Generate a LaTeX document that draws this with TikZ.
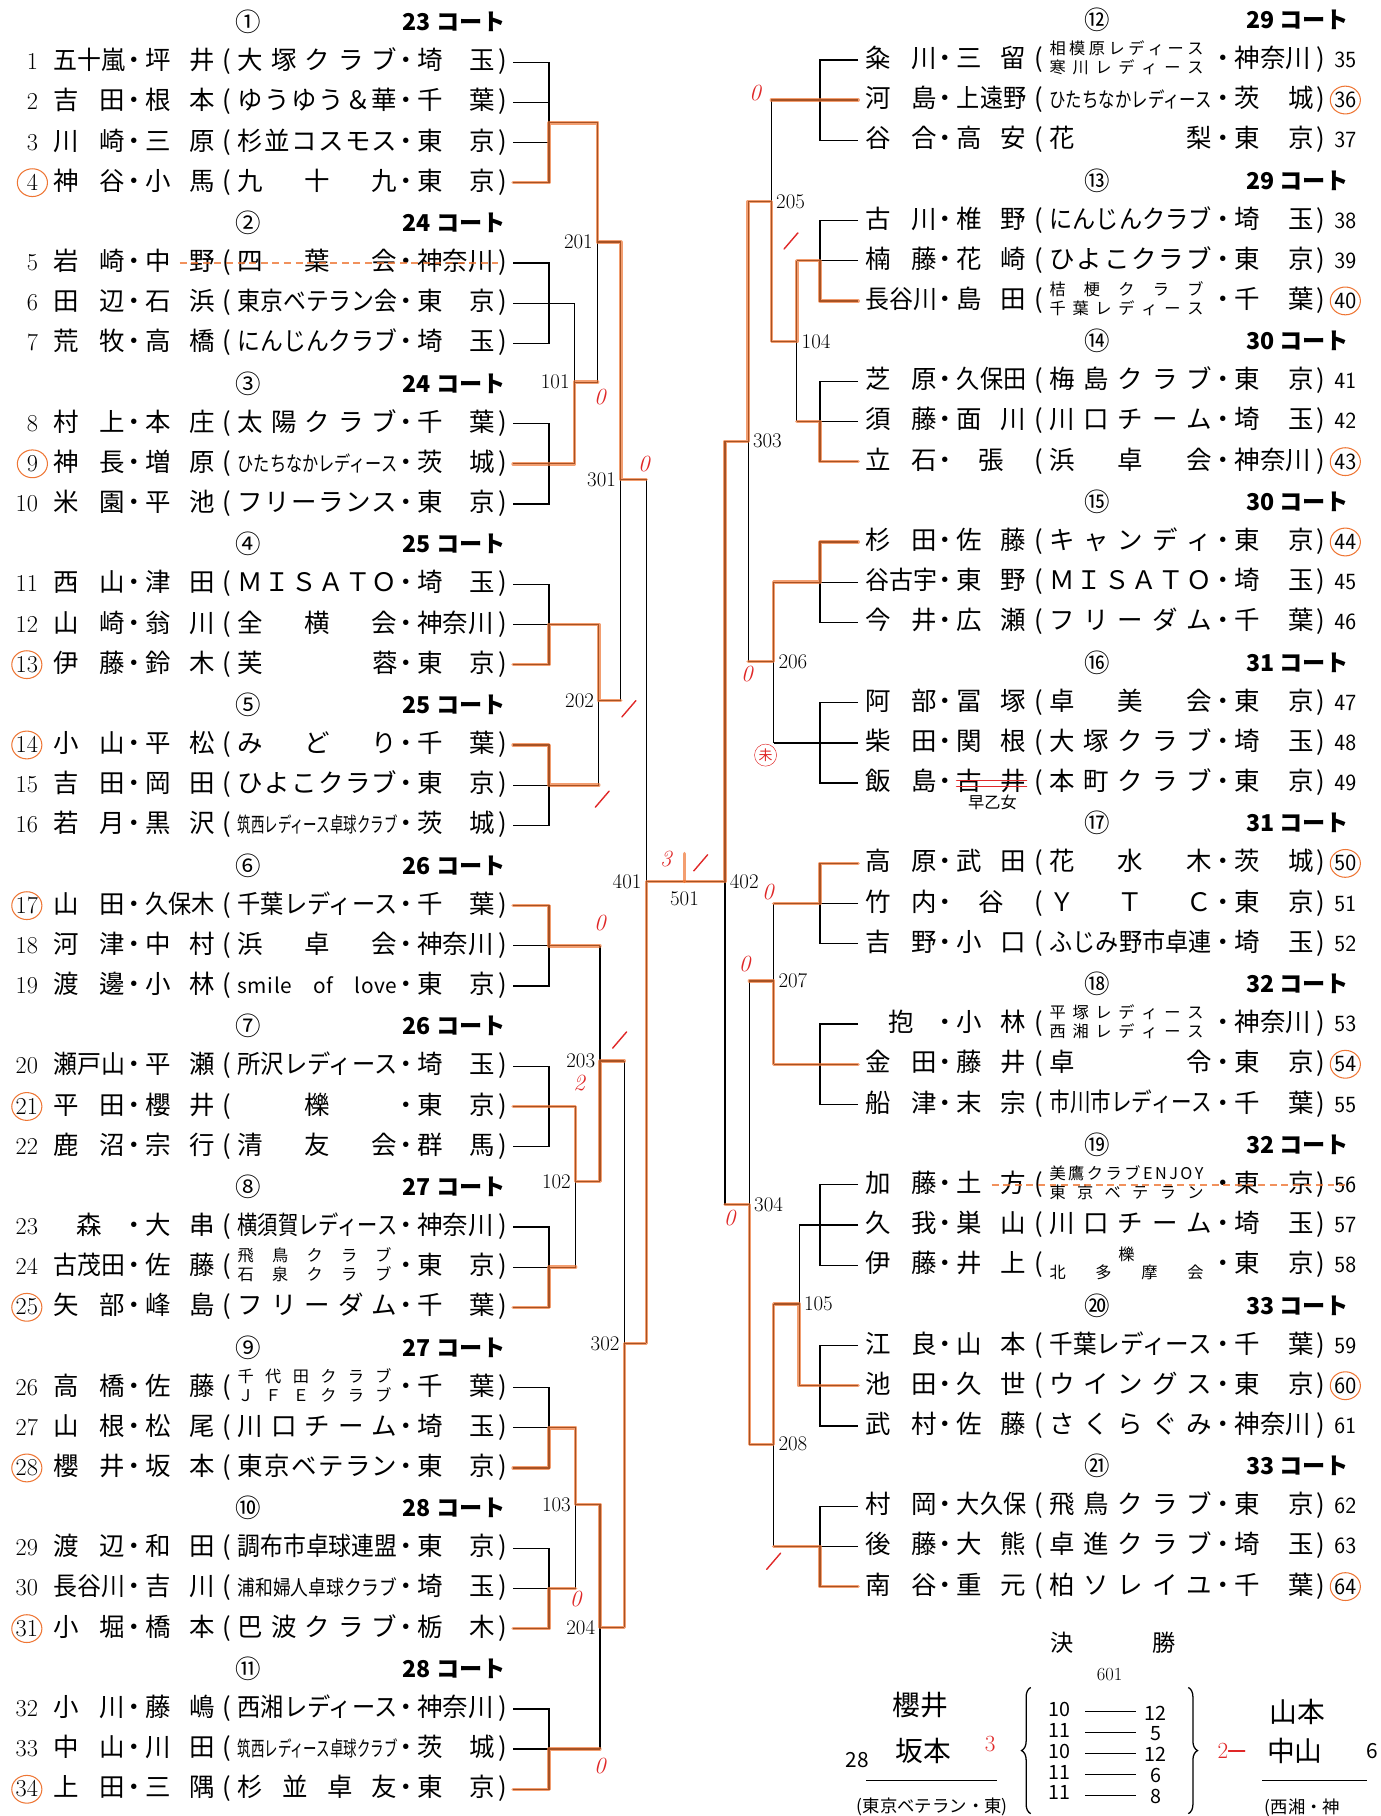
\documentclass[tikz,border=0pt]{standalone}
\usepackage{fontspec}
\usepackage{graphicx}
\usetikzlibrary{decorations.pathreplacing}
\newfontfamily\jp{Noto Sans CJK JP}
\definecolor{hlorange}{RGB}{238,118,52}
\definecolor{penred}{RGB}{224,40,40}
\newcommand\jpr{\jp\fontsize{22}{24}\selectfont}
\newcommand\sm{\fontsize{18}{18}\selectfont}
\newlength\fitw
\newcommand\fitto[2]{{\spaceskip=0pt plus 1fil\relax
  \settowidth\fitw{#2}%
  \ifdim\fitw>#1\relax\resizebox{#1}{\height}{#2}\else\makebox[#1][s]{#2}\fi}}
\newcommand\twol[2]{\raisebox{3pt}{\fontsize{14}{14.5}\selectfont%
  \begin{tabular}{@{}l@{}}\fitto{133pt}{#1}\\\fitto{133pt}{#2}\end{tabular}}}
% one player line, left half: slot, number, surname, given name, club, prefecture
\newcommand\lrow[6]{%
  \pgfmathsetmacro\yy{19+34.68*#1}%
  \node[numl] (n#2) at (33,\yy) {#2};
  \node[txt] (s#2) at (46,\yy) {\fitto{62pt}{#3}};
  \node[sym] (d#2) at (116,\yy) {\makebox[8pt]{・}};
  \node[txt] (g#2) at (125,\yy) {\fitto{60pt}{#4}};
  \node[sym] (o#2) at (196,\yy) {(};
  \node[txt] (c#2) at (205,\yy) {\fitto{138pt}{#5}};
  \node[sym] (e#2) at (351,\yy) {\makebox[8pt]{・}};
  \node[txt] (p#2) at (360,\yy) {\fitto{67pt}{#6}};
  \node[sym] (q#2) at (434,\yy) {)};
  \coordinate (r#2) at (443,\yy);
}
% right half
\newcommand\rrow[6]{%
  \pgfmathsetmacro\yy{17+34.69*#1}%
  \coordinate (r#2) at (741,\yy);
  \node[txt] (s#2) at (747,\yy) {\fitto{62pt}{#3}};
  \node[sym] (d#2) at (816,\yy) {\makebox[8pt]{・}};
  \node[txt] (g#2) at (826,\yy) {\fitto{60pt}{#4}};
  \node[sym] (o#2) at (897,\yy) {(};
  \node[txt] (c#2) at (906,\yy) {\fitto{140pt}{#5}};
  \node[sym] (e#2) at (1056,\yy) {\makebox[8pt]{・}};
  \node[txt] (p#2) at (1066,\yy) {\fitto{68pt}{#6}};
  \node[sym] (q#2) at (1140,\yy) {)};
  \node[numr] (n#2) at (1152,\yy) {#2};
}
\newcommand\lhead[4]{%
  \pgfmathsetmacro\yy{19+34.68*#1}%
  \node[circn] (hc#2) at (214,\yy) {#3};
  \node[court] (hk#2) at (437,\yy) {#4 コート};
}
\newcommand\rhead[4]{%
  \pgfmathsetmacro\yy{17+34.69*#1}%
  \node[circn] (hc#2) at (947,\yy) {#3};
  \node[court] (hk#2) at (1165,\yy) {#4 コート};
}

\begin{document}
\begin{tikzpicture}[x=1pt, y=-1pt,
    txt/.style={anchor=west, inner sep=0pt, text height=17pt, text depth=4pt, font=\jpr},
    sym/.style={anchor=center, inner sep=0pt, text height=17pt, text depth=4pt, font=\jpr},
    numl/.style={anchor=east, inner sep=0pt, text height=17pt, text depth=4pt, font=\fontsize{21}{21}\selectfont},
    numr/.style={anchor=west, inner sep=0pt, text height=17pt, text depth=4pt, font=\sffamily\fontsize{20}{20}\selectfont},
    circn/.style={inner sep=0pt, font=\jp\fontsize{22}{22}\selectfont},
    court/.style={anchor=east, inner sep=0pt, font=\jp\bfseries\fontsize{20}{20}\selectfont},
    mno/.style={inner sep=0pt, font=\fontsize{18}{18}\selectfont},
    br/.style={line width=1.1pt},
    hl/.style={draw=hlorange, line width=3pt, opacity=.7, line cap=round, line join=round},
    strike/.style={draw=hlorange, line width=1.5pt, dash pattern=on 6pt off 4pt, opacity=.8},
    pen/.style={inner sep=0pt, text=penred, font=\fontsize{20}{20}\selectfont\itshape},
    tick/.style={draw=penred, line width=1.2pt, line cap=round},
    ring/.style={draw=hlorange, line width=.9pt},
    hand/.style={inner sep=0pt, font=\jp\fontsize{24}{24}\selectfont},
    fin/.style={inner sep=0pt, font=\jp\fontsize{20}{20}\selectfont}
]
    \path[use as bounding box, fill=white] (0,0) rectangle (1192,1568);

    % Court headers
    \lhead{0}{1}{①}{23}
    \lhead{5}{2}{②}{24}
    \lhead{9}{3}{③}{24}
    \lhead{13}{4}{④}{25}
    \lhead{17}{5}{⑤}{25}
    \lhead{21}{6}{⑥}{26}
    \lhead{25}{7}{⑦}{26}
    \lhead{29}{8}{⑧}{27}
    \lhead{33}{9}{⑨}{27}
    \lhead{37}{10}{⑩}{28}
    \lhead{41}{11}{⑪}{28}
    \rhead{0}{12}{⑫}{29}
    \rhead{4}{13}{⑬}{29}
    \rhead{8}{14}{⑭}{30}
    \rhead{12}{15}{⑮}{30}
    \rhead{16}{16}{⑯}{31}
    \rhead{20}{17}{⑰}{31}
    \rhead{24}{18}{⑱}{32}
    \rhead{28}{19}{⑲}{32}
    \rhead{32}{20}{⑳}{33}
    \rhead{36}{21}{㉑}{33}

    % Players, left
    \lrow{1}{1}{五十嵐}{坪 井}{大 塚 ク ラ ブ}{埼 玉}
    \lrow{2}{2}{吉 田}{根 本}{ゆ う ゆ う ＆ 華}{千 葉}
    \lrow{3}{3}{川 崎}{三 原}{杉 並 コ ス モ ス}{東 京}
    \lrow{4}{4}{神 谷}{小 馬}{九 十 九}{東 京}
    \lrow{6}{5}{岩 崎}{中 野}{四 葉 会}{神奈川}
    \lrow{7}{6}{田 辺}{石 浜}{東京ベテラン会}{東 京}
    \lrow{8}{7}{荒 牧}{高 橋}{にんじんクラブ}{埼 玉}
    \lrow{10}{8}{村 上}{本 庄}{太 陽 ク ラ ブ}{千 葉}
    \lrow{11}{9}{神 長}{増 原}{\sm ひたちなかレディース}{茨 城}
    \lrow{12}{10}{米 園}{平 池}{フ リ ー ラ ン ス}{東 京}
    \lrow{14}{11}{西 山}{津 田}{Ｍ Ｉ Ｓ Ａ Ｔ Ｏ}{埼 玉}
    \lrow{15}{12}{山 崎}{翁 川}{全 横 会}{神奈川}
    \lrow{16}{13}{伊 藤}{鈴 木}{芙 蓉}{東 京}
    \lrow{18}{14}{小 山}{平 松}{み ど り}{千 葉}
    \lrow{19}{15}{吉 田}{岡 田}{ひ よ こ ク ラ ブ}{東 京}
    \lrow{20}{16}{若 月}{黒 沢}{\sm 筑西レディース卓球クラブ}{茨 城}
    \lrow{22}{17}{山 田}{久保木}{千葉レディース}{千 葉}
    \lrow{23}{18}{河 津}{中 村}{浜 卓 会}{神奈川}
    \lrow{24}{19}{渡 邊}{小 林}{\sm s m i l e \quad o f \quad l o v e}{東 京}
    \lrow{26}{20}{瀬戸山}{平 瀬}{所沢レディース}{埼 玉}
    \lrow{27}{21}{平 田}{櫻 井}{\hfil 櫟\hfil}{東 京}
    \lrow{28}{22}{鹿 沼}{宗 行}{清 友 会}{群 馬}
    \lrow{30}{23}{\hfil 森\hfil}{大 串}{横須賀レディース}{神奈川}
    \lrow{31}{24}{古茂田}{佐 藤}{\twol{飛 鳥 ク ラ ブ}{石 泉 ク ラ ブ}}{東 京}
    \lrow{32}{25}{矢 部}{峰 島}{フ リ ー ダ ム}{千 葉}
    \lrow{34}{26}{高 橋}{佐 藤}{\twol{千 代 田 ク ラ ブ}{Ｊ Ｆ Ｅ ク ラ ブ}}{千 葉}
    \lrow{35}{27}{山 根}{松 尾}{川 口 チ ー ム}{埼 玉}
    \lrow{36}{28}{櫻 井}{坂 本}{東 京 ベ テ ラ ン}{東 京}
    \lrow{38}{29}{渡 辺}{和 田}{調布市卓球連盟}{東 京}
    \lrow{39}{30}{長谷川}{吉 川}{\sm 浦和婦人卓球クラブ}{埼 玉}
    \lrow{40}{31}{小 堀}{橋 本}{巴 波 ク ラ ブ}{栃 木}
    \lrow{42}{32}{小 川}{藤 嶋}{西湘レディース}{神奈川}
    \lrow{43}{33}{中 山}{川 田}{\sm 筑西レディース卓球クラブ}{茨 城}
    \lrow{44}{34}{上 田}{三 隅}{杉 並 卓 友}{東 京}

    % Players, right
    \rrow{1}{35}{粂 川}{三 留}{\twol{相 模 原 レ デ ィ ー ス}{寒 川 レ デ ィ ー ス}}{神奈川}
    \rrow{2}{36}{河 島}{上遠野}{\sm ひたちなかレディース}{茨 城}
    \rrow{3}{37}{谷 合}{高 安}{花 梨}{東 京}
    \rrow{5}{38}{古 川}{椎 野}{にんじんクラブ}{埼 玉}
    \rrow{6}{39}{楠 藤}{花 崎}{ひ よ こ ク ラ ブ}{東 京}
    \rrow{7}{40}{長谷川}{島 田}{\twol{桔 梗 ク ラ ブ}{千 葉 レ デ ィ ー ス}}{千 葉}
    \rrow{9}{41}{芝 原}{久保田}{梅 島 ク ラ ブ}{東 京}
    \rrow{10}{42}{須 藤}{面 川}{川 口 チ ー ム}{埼 玉}
    \rrow{11}{43}{立 石}{\hfil 張\hfil}{浜 卓 会}{神奈川}
    \rrow{13}{44}{杉 田}{佐 藤}{キ ャ ン デ ィ}{東 京}
    \rrow{14}{45}{谷古宇}{東 野}{Ｍ Ｉ Ｓ Ａ Ｔ Ｏ}{埼 玉}
    \rrow{15}{46}{今 井}{広 瀬}{フ リ ー ダ ム}{千 葉}
    \rrow{17}{47}{阿 部}{冨 塚}{卓 美 会}{東 京}
    \rrow{18}{48}{柴 田}{関 根}{大 塚 ク ラ ブ}{埼 玉}
    \rrow{19}{49}{飯 島}{古 井}{本 町 ク ラ ブ}{東 京}
    \rrow{21}{50}{高 原}{武 田}{花 水 木}{茨 城}
    \rrow{22}{51}{竹 内}{\hfil 谷\hfil}{Ｙ Ｔ Ｃ}{東 京}
    \rrow{23}{52}{吉 野}{小 口}{ふじみ野市卓連}{埼 玉}
    \rrow{25}{53}{\hfil 抱\hfil}{小 林}{\twol{平 塚 レ デ ィ ー ス}{西 湘 レ デ ィ ー ス}}{神奈川}
    \rrow{26}{54}{金 田}{藤 井}{卓 令}{東 京}
    \rrow{27}{55}{船 津}{末 宗}{市川市レディース}{千 葉}
    \rrow{29}{56}{加 藤}{土 方}{\twol{美 鷹 ク ラ ブ E N J O Y}{東 京 ベ テ ラ ン}}{東 京}
    \rrow{30}{57}{久 我}{巣 山}{川 口 チ ー ム}{埼 玉}
    \rrow{31}{58}{伊 藤}{井 上}{\twol{\hfil 櫟\hfil}{北 多 摩 会}}{東 京}
    \rrow{33}{59}{江 良}{山 本}{千葉レディース}{千 葉}
    \rrow{34}{60}{池 田}{久 世}{ウ イ ン グ ス}{東 京}
    \rrow{35}{61}{武 村}{佐 藤}{さ く ら ぐ み}{神奈川}
    \rrow{37}{62}{村 岡}{大久保}{飛 鳥 ク ラ ブ}{東 京}
    \rrow{38}{63}{後 藤}{大 熊}{卓 進 ク ラ ブ}{埼 玉}
    \rrow{39}{64}{南 谷}{重 元}{柏 ソ レ イ ユ}{千 葉}

    % Match points
    \coordinate (g1) at (474,106);
    \coordinate (m101) at (496,330);
    \coordinate (m201) at (516,209);
    \coordinate (m202) at (517,605);
    \coordinate (m301) at (536,414);
    \coordinate (m102) at (497,1020);
    \coordinate (m103) at (497,1299);
    \coordinate (m203) at (518,916);
    \coordinate (m204) at (518,1405);
    \coordinate (m302) at (539,1160);
    \coordinate (m401) at (558,761);
    \coordinate (m501) at (591,761);
    \coordinate (m104) at (688,295);
    \coordinate (m205) at (666,174);
    \coordinate (m206) at (668,571);
    \coordinate (m303) at (646,381);
    \coordinate (m105) at (690,1126);
    \coordinate (m207) at (668,847);
    \coordinate (m208) at (668,1247);
    \coordinate (m304) at (647,1040);
    \coordinate (m402) at (626,761);

    % Groups
    \draw[br] (r1) -- ++(31,0) |- (r4);
    \draw[br] (r2) -- ++(31,0);
    \draw[br] (r3) -- ++(31,0);
    \foreach \a/\c in {5/7,8/10,11/13,14/16,17/19,20/22,23/25,26/28,29/31,32/34}
        \draw[br] (r\a) -- ++(31,0) |- (r\c);
    \foreach \a/\c in {35/37,38/40,41/43,44/46,47/49,50/52,53/55,56/58,59/61,62/64}
        \draw[br] (r\a) -- ++(-33,0) |- (r\c);

    % Rounds, left
    \draw[br] (g1) -- (g1 -| m201);
    \draw[br] (r6) -- (r6 -| m101);
    \draw[br] (r9) -- (r9 -| m101);
    \draw[br] (r6 -| m101) -- (r9 -| m101);
    \draw[br] (m101) -- (m101 -| m201);
    \draw[br] (g1 -| m201) -- (m101 -| m201);
    \draw[br] (m201) -- (m201 -| m301);
    \draw[br] (r12) -- (r12 -| m202);
    \draw[br] (r15) -- (r15 -| m202);
    \draw[br] (r12 -| m202) -- (r15 -| m202);
    \draw[br] (m202) -- (m202 -| m301);
    \draw[br] (m201 -| m301) -- (m202 -| m301);
    \draw[br] (m301) -- (m301 -| m401);
    \draw[br] (r18) -- (r18 -| m203);
    \draw[br] (r21) -- (r21 -| m102);
    \draw[br] (r24) -- (r24 -| m102);
    \draw[br] (r21 -| m102) -- (r24 -| m102);
    \draw[br] (m102) -- (m102 -| m203);
    \draw[br] (r18 -| m203) -- (m102 -| m203);
    \draw[br] (m203) -- (m203 -| m302);
    \draw[br] (r27) -- (r27 -| m103);
    \draw[br] (r30) -- (r30 -| m103);
    \draw[br] (r27 -| m103) -- (r30 -| m103);
    \draw[br] (m103) -- (m103 -| m204);
    \draw[br] (r33) -- (r33 -| m204);
    \draw[br] (m103 -| m204) -- (r33 -| m204);
    \draw[br] (m204) -- (m204 -| m302);
    \draw[br] (m203 -| m302) -- (m204 -| m302);
    \draw[br] (m302) -- (m302 -| m401);
    \draw[br] (m301 -| m401) -- (m302 -| m401);
    \draw[br] (m401) -- (m402);

    % Rounds, right
    \draw[br] (r36) -- (r36 -| m205);
    \draw[br] (r39) -- (r39 -| m104);
    \draw[br] (r42) -- (r42 -| m104);
    \draw[br] (r39 -| m104) -- (r42 -| m104);
    \draw[br] (m104) -- (m104 -| m205);
    \draw[br] (r36 -| m205) -- (m104 -| m205);
    \draw[br] (m205) -- (m205 -| m303);
    \draw[br] (r45) -- (r45 -| m206);
    \draw[br] (r48) -- (r48 -| m206);
    \draw[br] (r45 -| m206) -- (r48 -| m206);
    \draw[br] (m206) -- (m206 -| m303);
    \draw[br] (m205 -| m303) -- (m206 -| m303);
    \draw[br] (m303) -- (m303 -| m402);
    \draw[br] (r51) -- (r51 -| m207);
    \draw[br] (r54) -- (r54 -| m207);
    \draw[br] (r51 -| m207) -- (r54 -| m207);
    \draw[br] (m207) -- (m207 -| m304);
    \draw[br] (r57) -- (r57 -| m105);
    \draw[br] (r60) -- (r60 -| m105);
    \draw[br] (r57 -| m105) -- (r60 -| m105);
    \draw[br] (m105) -- (m105 -| m208);
    \draw[br] (r63) -- (r63 -| m208);
    \draw[br] (m105 -| m208) -- (r63 -| m208);
    \draw[br] (m208) -- (m208 -| m304);
    \draw[br] (m207 -| m304) -- (m208 -| m304);
    \draw[br] (m304) -- (m304 -| m402);
    \draw[br] (m303 -| m402) -- (m304 -| m402);

    % Match numbers
    \foreach \m in {101,201,301,202,401,203,102,302,103,204}
        \node[mno, anchor=east, xshift=-4pt] (l\m) at (m\m) {\m};
    \foreach \m in {205,104,303,206,402,207,304,105,208}
        \node[mno, anchor=west, xshift=4pt] (l\m) at (m\m) {\m};
    \node[mno] (l501) at (591,776) {501};

    % Marker pen: winners
    \draw[hl] (r4) -- ++(31,0) -- (g1) -- (g1 -| m201) -- (m201) -- (m201 -| m301) -- (m301) -- (m301 -| m401);
    \draw[hl] (r9) -- (r9 -| m101) -- (m101) -- (m101 -| m201);
    \draw[hl] (r13) -- ++(31,0) |- (r12 -| m202) -- (m202) -- (m202 -| m301);
    \draw[hl] (r14) -- ++(31,0) |- (r15 -| m202);
    \draw[hl] (r17) -- ++(31,0) |- (r18 -| m203);
    \draw[hl] (r21) -- (r21 -| m102) -- (m102) -- (m102 -| m203) -- (m203) -- (m203 -| m302);
    \draw[hl] (r25) -- ++(31,0) |- (r24 -| m102);
    \draw[hl] (r28) -- ++(31,0) |- (r27 -| m103) -- (m103) -- (m103 -| m204) -- (m204) -- (m204 -| m302) -- (m302) -- (m302 -| m401) -- (m401) -- (m501);
    \draw[hl] (r31) -- ++(31,0) |- (r30 -| m103);
    \draw[hl] (r34) -- ++(31,0) |- (r33 -| m204);
    \draw[hl] (r36) -- (r36 -| m205);
    \draw[hl] (r40) -- ++(-33,0) |- (r39 -| m104) -- (m104) -- (m104 -| m205) -- (m205) -- (m205 -| m303) -- (m303) -- (m303 -| m402) -- (m402) -- (m501);
    \draw[hl] (r43) -- ++(-33,0) |- (r42 -| m104);
    \draw[hl] (r44) -- ++(-33,0) |- (r45 -| m206) -- (m206) -- (m206 -| m303);
    \draw[hl] (r50) -- ++(-33,0) |- (r51 -| m207);
    \draw[hl] (r54) -- (r54 -| m207) -- (m207) -- (m207 -| m304);
    \draw[hl] (r60) -- (r60 -| m105) -- (m105) -- (m105 -| m208) -- (m208) -- (m208 -| m304) -- (m304) -- (m304 -| m402);
    \draw[hl] (r64) -- ++(-33,0) |- (r63 -| m208);
    \draw[hl] (591,737) -- (m501);
    \foreach \k in {4,9,13,14,17,21,25,28,31,34,36,40,43,44,50,54,60,64}
        \draw[ring] (n\k) ellipse [x radius=13, y radius=12];
    \draw[strike] (g5.center) -- (q5.west);
    \draw[strike] (g56.center) -- (n56.center);
    \draw[tick] ([yshift=2pt]g49.west) -- ([yshift=2pt]g49.east);
    \draw[tick] ([yshift=-3pt]g49.west) -- ([yshift=-3pt]g49.east);
    \node[inner sep=0pt, font=\jp\fontsize{14}{14}\selectfont] (hw0) at (857,693) {早乙女};

    % Scores
    \foreach \i/\x/\y in {1/652/80, 2/518/343, 3/556/401, 4/645/582, 5/663/770, 6/518/797, 7/643/832, 8/630/1052, 9/497/1381, 10/518/1525}
        \node[pen] (z\i) at (\x,\y) {0};
    \foreach \x/\y in {683/208, 543/612, 520/690, 605/745, 535/898, 668/1348}
        \draw[tick] (\x-6,\y+7) -- (\x+6,\y-7);
    \node[pen] (z11) at (575,742) {3};
    \node[pen] (z12) at (500,935) {2};
    \node[circle, draw=penred, inner sep=1pt, text=penred, font=\jp\fontsize{12}{12}\selectfont] (z13) at (661,652) {未};

    % Final
    \node[fin] (ketsu) at (917,1418) {決};
    \node[fin] (sho) at (1005,1418) {勝};
    \node[mno, font=\fontsize{16}{16}\selectfont] (f601) at (958,1446) {601};
    \coordinate (bl1) at (890,1566);
    \coordinate (bl2) at (890,1457);
    \coordinate (bk1) at (1026,1457);
    \coordinate (bk2) at (1026,1566);
    \draw[br, decorate, decoration={brace, amplitude=8pt}] (bl1) -- (bl2);
    \draw[br, decorate, decoration={brace, amplitude=8pt}] (bk1) -- (bk2);
    \foreach \i/\y/\a/\b in {1/1478/10/12, 2/1496/11/5, 3/1514/10/12, 4/1532/11/6, 5/1550/11/8} {
        \coordinate (sa\i) at (937,\y);
        \coordinate (sb\i) at (981,\y);
        \draw[line width=1pt] (sa\i) -- (sb\i);
        \node[hand, font=\jp\fontsize{17}{17}\selectfont] (sl\i) at (915,\y-2) {\a};
        \node[hand, font=\jp\fontsize{17}{17}\selectfont] (sr\i) at (998,\y+1) {\b};
    }
    \node[hand] (hw1) at (795,1472) {櫻井};
    \node[hand, font=\jp\fontsize{18}{18}\selectfont] (hw2) at (740,1520) {28};
    \node[hand] (hw3) at (797,1512) {坂本};
    \node[pen, font=\fontsize{20}{20}\selectfont] (hw4) at (855,1506) {3};
    \coordinate (ul1) at (748,1537);
    \coordinate (ul2) at (861,1537);
    \draw[line width=1pt] (ul1) -- (ul2);
    \node[hand, font=\jp\fontsize{15}{15}\selectfont] (hw5) at (805,1560) {(東京ベテラン・東)};
    \node[pen, font=\fontsize{20}{20}\selectfont] (hw6) at (1056,1512) {2};
    \draw[tick] (hw6.east) -- ++(14,0);
    \node[hand] (hw7) at (1120,1478) {山本};
    \node[hand] (hw8) at (1118,1512) {中山};
    \node[hand, font=\jp\fontsize{18}{18}\selectfont] (hw9) at (1185,1512) {6};
    \coordinate (ur1) at (1090,1537);
    \coordinate (ur2) at (1180,1537);
    \draw[line width=1pt] (ur1) -- (ur2);
    \node[hand, font=\jp\fontsize{15}{15}\selectfont, anchor=west] (hw10) at (1092,1561) {(西湘・神};
\end{tikzpicture}
\end{document}
